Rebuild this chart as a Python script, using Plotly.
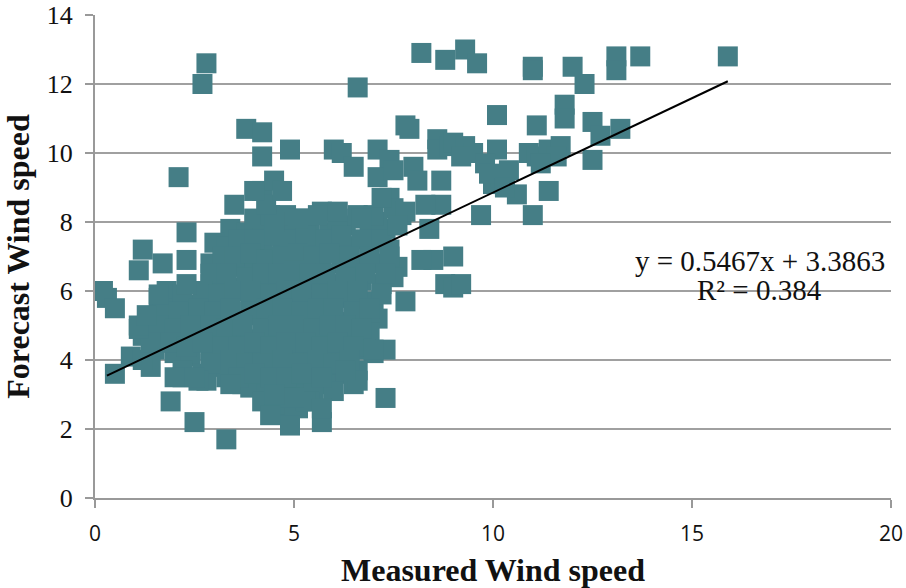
import plotly.graph_objects as go

# sparse points
outer_x = [0.3,0.2,0.5,0.5,1.1,1.2,1.7,2.3,2.3,2.3,2.1,2.7,2.8,3.3,2.5,1.9,3.8,4.2,4.2,4.9,
           6.0,6.2,6.5,6.6,7.1,7.4,7.1,7.5,7.8,7.9,8.2,8.0,8.1,8.6,8.6,8.7,8.9,9.0,9.3,9.5,
           8.8,9.3,9.6,10.1,10.1,9.8,10.0,10.2,10.4,10.6,11.0,9.7,10.9,11.1,11.1,11.4,11.4,11.7,11.6,11.8,
           11.8,12.0,12.5,12.7,12.5,12.3,11.0,11.0,13.1,13.1,13.7,15.9,13.2,8.7,8.3,8.4,8.5,8.2,8.8,9.0,
           9.2,9.0,7.8,7.3,7.3,7.0,7.4,7.7,7.0,6.7,6.1,5.6,5.1,4.5,3.5,4.2,4.5,4.3,4.7,4.0,
           4.9,5.7,5.7,4.4,5.0,4.5,3.4,2.6,2.0,2.5,1.4,0.9,1.2,1.4,1.1,1.1,1.3,1.6,6.5,6.6,
           6.3,7.5,7.8,7.6,7.2,9.2,9.9,10.3,11.2]
outer_y = [5.8,6.0,5.5,3.6,6.6,7.2,6.8,7.7,6.9,6.2,9.3,12.0,12.6,1.7,2.2,2.8,10.7,10.6,9.9,10.1,
           10.1,10.0,9.6,11.9,10.1,9.8,9.3,9.5,10.8,10.7,12.9,9.6,9.2,10.4,10.1,9.2,10.2,10.3,10.2,10.0,
           12.7,13.0,12.6,11.1,10.1,9.7,9.1,9.3,9.5,8.8,8.2,8.2,10.0,10.8,9.9,8.9,10.1,10.2,9.9,11.4,
           11.0,12.5,10.9,10.5,9.8,12.0,12.5,12.4,12.8,12.4,12.8,12.8,10.7,8.5,8.5,7.8,6.9,6.9,6.2,6.1,
           6.2,7.0,5.7,2.9,4.3,4.3,8.7,8.2,8.2,8.1,8.3,8.2,8.1,8.0,8.5,8.9,9.2,8.5,8.9,8.9,
           2.1,2.2,2.6,2.4,2.9,3.0,3.3,3.4,3.5,3.5,3.8,4.1,4.0,4.5,4.9,5.0,5.3,5.9,3.3,3.4,
           3.7,8.4,8.3,7.9,8.7,9.9,9.4,9.0,9.7]

# dense central cloud, row by row
cloud_x = [3.4,3.8,4.2,4.6,5.0,5.4,5.9,6.3,6.9,7.3,
           3.0,3.3,3.8,4.2,4.7,5.1,5.6,6.0,6.4,6.9,7.4,
           2.9,3.6,4.0,4.4,4.9,5.3,5.7,6.2,6.6,7.1,7.6,
           2.9,3.3,3.7,4.2,4.6,5.0,5.5,5.9,6.3,6.7,7.2,7.5,
           1.6,2.0,2.5,3.0,3.4,3.9,4.3,4.8,5.2,5.6,6.1,6.5,7.0,
           1.5,1.9,2.4,2.8,3.2,3.7,4.1,4.6,5.0,5.4,5.8,6.3,6.7,7.1,
           1.2,1.8,2.2,2.6,3.1,3.5,3.9,4.4,4.8,5.2,5.7,6.1,6.5,6.9,
           1.5,2.0,2.4,2.9,3.3,3.8,4.2,4.6,5.0,5.5,5.9,6.3,6.8,7.0,
           2.2,2.7,3.1,3.6,4.0,4.5,4.9,5.3,5.8,6.2,6.6,
           2.2,2.8,3.3,3.7,4.1,4.6,5.0,5.4,5.9,6.3,
           3.9,4.3,4.7,5.1,5.5,6.0,
           4.2,4.6,5.1,5.4]
cloud_y = [7.8,7.7,7.8,7.7,7.9,7.8,7.7,7.9,7.7,7.8,
           7.4,7.3,7.2,7.3,7.2,7.4,7.3,7.2,7.3,7.4,7.2,
           6.8,6.7,6.9,6.7,6.8,6.7,6.9,6.8,6.7,6.8,6.7,
           6.2,6.3,6.1,6.2,6.3,6.1,6.3,6.2,6.1,6.3,6.2,6.4,
           5.8,5.7,5.6,5.7,5.8,5.6,5.7,5.8,5.6,5.7,5.8,5.6,5.7,
           5.1,5.2,5.3,5.1,5.2,5.1,5.3,5.2,5.1,5.2,5.3,5.1,5.2,5.2,
           4.7,4.7,4.6,4.8,4.6,4.7,4.6,4.8,4.7,4.6,4.8,4.7,4.6,4.8,
           4.3,4.2,4.1,4.3,4.2,4.1,4.3,4.2,4.1,4.3,4.2,4.1,4.3,4.2,
           3.7,3.6,3.8,3.7,3.6,3.8,3.7,3.6,3.8,3.7,3.7,
           3.5,3.4,3.5,3.3,3.3,3.2,3.3,3.2,3.3,3.6,
           3.2,3.0,3.1,3.0,3.1,3.1,
           2.8,2.6,2.6,2.8]

# further readings packed between the rows above
fill_x = [4.0,4.4,4.8,5.2,5.7,6.1,6.6,7.1,
          3.6,4.0,4.5,4.9,5.3,5.8,6.2,6.7,7.2,
          3.2,3.5,3.9,4.3,4.7,5.1,5.5,5.9,6.4,6.9,7.4,
          2.9,3.3,3.8,4.2,4.6,5.0,5.4,5.8,6.3,6.8,7.3,
          1.8,2.2,2.7,3.1,3.5,3.9,4.4,4.8,5.2,5.7,6.1,6.6,7.2,
          1.7,2.1,2.6,3.0,3.4,3.9,4.3,4.7,5.2,5.6,6.0,6.5,6.9,
          1.6,2.0,2.4,2.9,3.3,3.7,4.2,4.6,5.0,5.5,5.9,6.3,6.7,
          1.9,2.3,2.7,3.2,3.6,4.0,4.4,4.8,5.3,5.7,6.1,6.5,
          2.9,3.4,3.8,4.2,4.7,5.1,5.6,6.0,6.4,
          3.6,4.0,4.4,4.8,5.2,5.7,
          4.5,4.9,5.3]
fill_y = [8.1,8.2,8.2,8.1,8.3,8.1,8.2,8.0,
          7.5,7.5,7.6,7.5,7.6,7.5,7.6,7.5,7.5,
          7.0,7.0,7.1,6.9,7.0,7.1,7.0,7.1,7.0,7.0,7.0,
          6.5,6.5,6.4,6.5,6.5,6.6,6.5,6.5,6.4,6.5,6.5,
          6.0,5.9,6.0,5.9,6.0,6.0,5.9,6.0,6.0,5.9,6.0,6.0,5.9,
          5.5,5.4,5.5,5.4,5.5,5.4,5.5,5.5,5.4,5.5,5.5,5.4,5.5,
          5.0,4.9,5.0,5.0,4.9,5.0,4.9,5.0,5.0,4.9,5.0,5.0,4.9,
          4.5,4.4,4.5,4.4,4.4,4.5,4.4,4.5,4.5,4.4,4.5,4.4,
          3.9,4.0,3.9,3.9,4.0,3.9,4.0,3.9,4.0,
          3.5,3.6,3.5,3.5,3.6,3.5,
          2.7,2.9,2.8]

trend_x = [0.3, 15.9]
trend_y = [3.55, 12.08]
x_ticks = [0, 5, 10, 15, 20]
y_ticks = [0, 2, 4, 6, 8, 10, 12, 14]

fig = go.Figure()
fig.add_trace(go.Scatter(x=cloud_x + fill_x + outer_x, y=cloud_y + fill_y + outer_y, mode="markers",
                         marker=dict(symbol="square", size=20, color="#457E86",
                                     line=dict(width=0))))
fig.add_trace(go.Scatter(x=trend_x, y=trend_y, mode="lines",
                         line=dict(color="black", width=2)))

fig.update_xaxes(range=[0, 20], tickvals=x_ticks, showgrid=False, zeroline=False, automargin=False,
                 showline=True, linecolor="#999999", linewidth=2,
                 ticks="outside", ticklen=8, tickcolor="#999999", tickwidth=2, ticklabelstandoff=8,
                 tickfont=dict(family="Open Sans", size=21, color="#111111"),
                 title=dict(text="<b>Measured Wind speed</b>",
                            font=dict(family="Liberation Serif", size=32, color="#111111")))
fig.update_yaxes(range=[0, 14], tickvals=y_ticks, showgrid=True, gridcolor="#A0A0A0", gridwidth=2,
                 zeroline=False, showline=True, linecolor="#999999", linewidth=2, automargin=False,
                 ticks="outside", ticklen=8, tickcolor="#999999", tickwidth=2, ticklabelstandoff=7,
                 tickfont=dict(family="Liberation Serif", size=26, color="#111111"),
                 title=dict(text="<b>Forecast Wind speed</b>",
                            font=dict(family="Liberation Serif", size=32, color="#111111")))
fig.add_annotation(x=16.7, y=6.87, text="y = 0.5467x + 3.3863", showarrow=False,
                   font=dict(family="Liberation Serif", size=29, color="#111111"))
fig.add_annotation(x=16.7, y=6.03, text="R² = 0.384", showarrow=False,
                   font=dict(family="Liberation Serif", size=29, color="#111111"))
fig.update_layout(width=906, height=588, autosize=False, showlegend=False,
                  paper_bgcolor="white", plot_bgcolor="white",
                  margin=dict(l=95, r=15, t=15, b=90))
fig.write_html("out.html", config={"displayModeBar": False},
               post_script="document.body.style.margin='0';")
